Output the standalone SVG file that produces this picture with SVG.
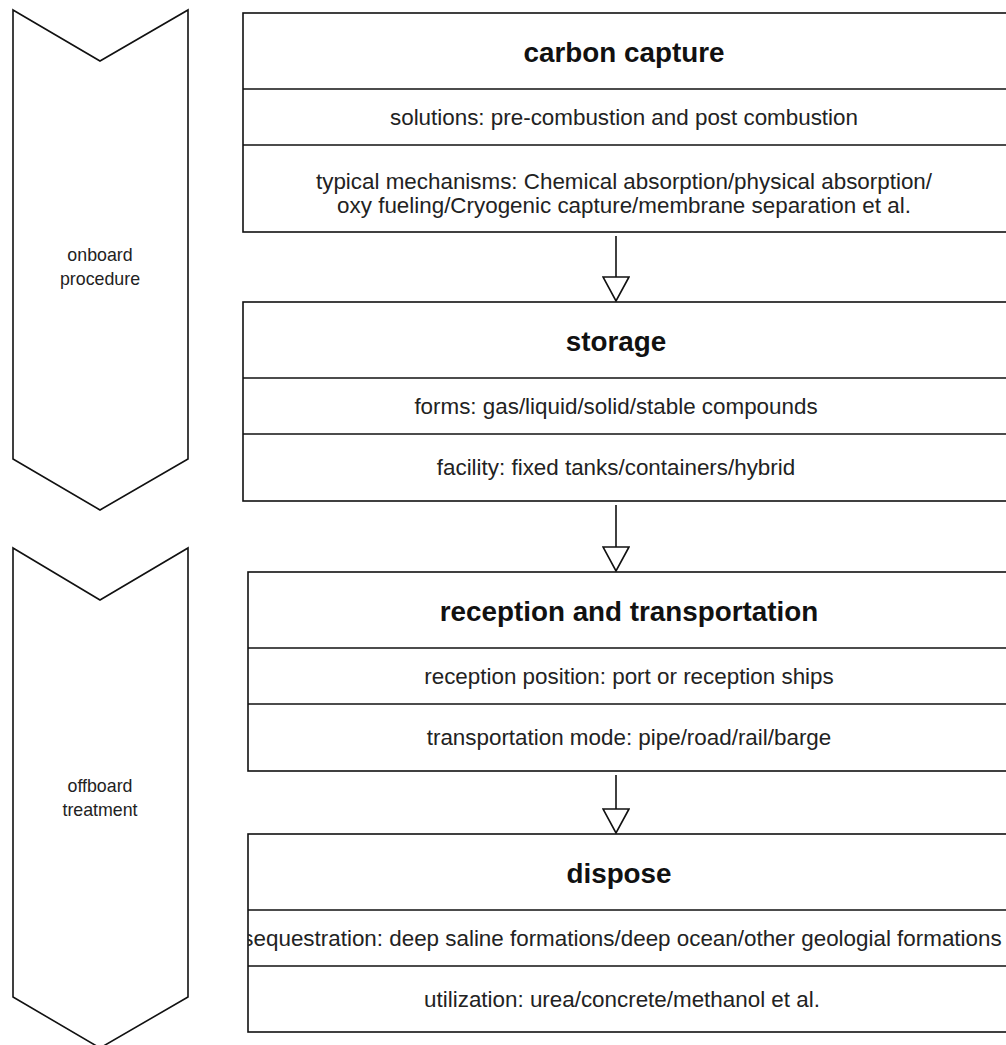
<svg xmlns="http://www.w3.org/2000/svg" width="1006" height="1045" viewBox="0 0 1006 1045">
<style>
  .shape { fill: #ffffff; stroke: #111111; stroke-width: 1.6; }
  .sep { stroke: #111111; stroke-width: 1.6; }
  .head { font-family: "Liberation Sans", Arial, sans-serif; font-weight: bold; font-size: 27.8px; fill: #111111; text-anchor: middle; dominant-baseline: central; }
  .body { font-family: "Liberation Sans", Arial, sans-serif; font-size: 22.4px; fill: #222222; text-anchor: middle; dominant-baseline: central; }
  .side { font-family: "Liberation Sans", Arial, sans-serif; font-size: 17.8px; fill: #222222; text-anchor: middle; dominant-baseline: central; }
  .conn { stroke: #111111; stroke-width: 1.6; fill: none; }
</style>
<defs>
  <marker id="openTri" viewBox="0 0 26 28" refX="25" refY="14" markerWidth="26" markerHeight="28" markerUnits="userSpaceOnUse" orient="auto">
    <path d="M1,1 L25,14 L1,27 Z" fill="#ffffff" stroke="#111111" stroke-width="1.6"/>
  </marker>
  <clipPath id="clipDispose"><rect x="248" y="834" width="760" height="198"/></clipPath>
</defs>

<g id="phase-onboard">
  <polygon class="shape" points="13,10 100,61 188,10 188,459 100,510 13,459"/>
  <text class="side" x="100" y="255">onboard</text>
  <text class="side" x="100" y="279">procedure</text>
</g>

<g id="phase-offboard">
  <polygon class="shape" points="13,548 100,600 188,548 188,997 100,1048 13,997"/>
  <text class="side" x="100" y="786">offboard</text>
  <text class="side" x="100" y="810">treatment</text>
</g>

<g id="carbon-capture">
  <rect class="shape" x="243" y="13" width="767" height="219"/>
  <line class="sep" x1="243" y1="89" x2="1010" y2="89"/>
  <line class="sep" x1="243" y1="145" x2="1010" y2="145"/>
  <text class="head" x="624" y="52">carbon capture</text>
  <text class="body" x="624" y="117">solutions: pre-combustion and post combustion</text>
  <text class="body" x="624" y="181">typical mechanisms: Chemical absorption/physical absorption/</text>
  <text class="body" x="624" y="205">oxy fueling/Cryogenic capture/membrane separation et al.</text>
</g>

<g id="storage">
  <rect class="shape" x="243" y="302" width="767" height="199"/>
  <line class="sep" x1="243" y1="378" x2="1010" y2="378"/>
  <line class="sep" x1="243" y1="434" x2="1010" y2="434"/>
  <text class="head" x="616" y="341">storage</text>
  <text class="body" x="616" y="406">forms: gas/liquid/solid/stable compounds</text>
  <text class="body" x="616" y="467">facility: fixed tanks/containers/hybrid</text>
</g>

<g id="reception-transportation">
  <rect class="shape" x="248" y="572" width="762" height="199"/>
  <line class="sep" x1="248" y1="648" x2="1010" y2="648"/>
  <line class="sep" x1="248" y1="704" x2="1010" y2="704"/>
  <text class="head" x="629" y="611">reception and transportation</text>
  <text class="body" x="629" y="676">reception position: port or reception ships</text>
  <text class="body" x="629" y="737">transportation mode: pipe/road/rail/barge</text>
</g>

<g id="dispose">
  <rect class="shape" x="248" y="834" width="762" height="198"/>
  <line class="sep" x1="248" y1="910" x2="1010" y2="910"/>
  <line class="sep" x1="248" y1="966" x2="1010" y2="966"/>
  <text class="head" x="619" y="873">dispose</text>
  <text class="body" x="622" y="938" clip-path="url(#clipDispose)">sequestration: deep saline formations/deep ocean/other geologial formations</text>
  <text class="body" x="622" y="999">utilization: urea/concrete/methanol et al.</text>
</g>

<g id="connectors">
  <line class="conn" x1="616" y1="236" x2="616" y2="301" marker-end="url(#openTri)"/>
  <line class="conn" x1="616" y1="505" x2="616" y2="571" marker-end="url(#openTri)"/>
  <line class="conn" x1="616" y1="775" x2="616" y2="833" marker-end="url(#openTri)"/>
</g>
</svg>
